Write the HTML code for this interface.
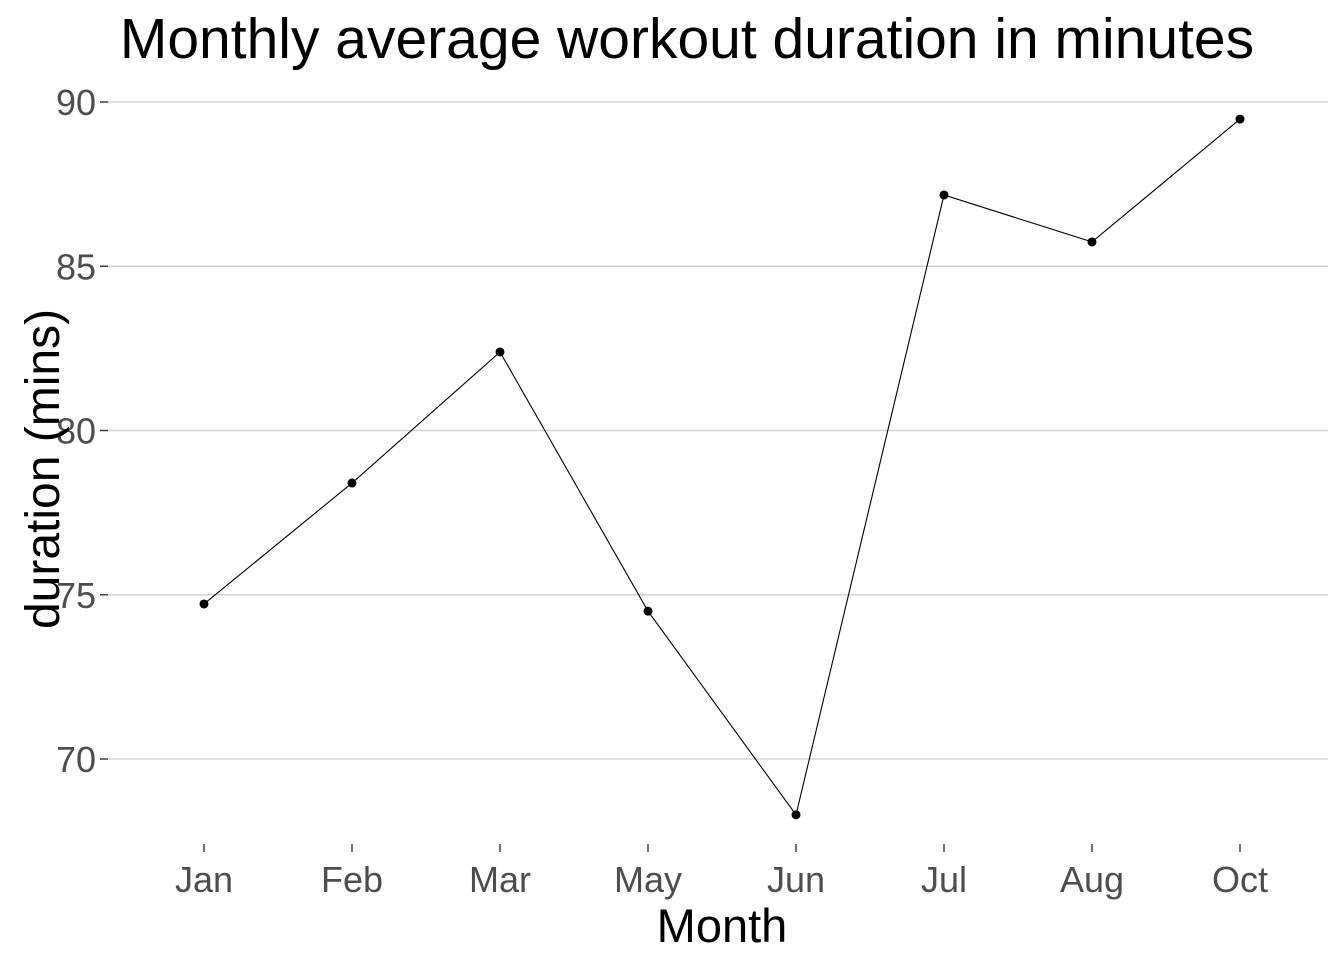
<!DOCTYPE html>
<html><head><meta charset="utf-8"><style>
body{margin:0;background:#fff;}
svg{display:block;font-family:"Liberation Sans",Arial,sans-serif;}
</style></head><body>
<svg id="chart" width="1344" height="960">
<text x="687" y="58" font-size="57" text-anchor="middle" fill="#000">Monthly average workout duration in minutes</text>
<g id="grid"></g>
<g id="yaxis"></g>
<g id="xaxis"></g>
<g id="series"></g>
<text x="722" y="942" font-size="47" text-anchor="middle" fill="#000">Month</text>
<text transform="translate(59,469) rotate(-90)" font-size="48" text-anchor="middle" fill="#000">duration (mins)</text>
</svg>
<script>
const categories=["Jan","Feb","Mar","May","Jun","Jul","Aug","Oct"];
const values=[74.72,78.4,82.39,74.5,68.3,87.17,85.74,89.48];
const yTicks=[70,75,80,85,90];
const NS="http://www.w3.org/2000/svg";
const left=108,right=1328;
function y(v){return 102+(90-v)*(657/20);}
function x(i){return 204+i*(1036/(categories.length-1));}
function mk(t,a,p){const e=document.createElementNS(NS,t);for(const k in a)e.setAttribute(k,a[k]);p.appendChild(e);return e;}
const grid=document.getElementById('grid'),ya=document.getElementById('yaxis'),xa=document.getElementById('xaxis'),s=document.getElementById('series');
yTicks.forEach(t=>{
 const g=mk('line',{x1:left,x2:right,y1:y(t),y2:y(t),stroke:'#d3d3d3','stroke-width':1.4},grid);
 
 
 const tk=mk('line',{x1:100,x2:108,y1:y(t),y2:y(t),stroke:'#333','stroke-width':1.4},ya);
 
 
 const l=mk('text',{x:96,y:y(t)+13,'font-size':36,'text-anchor':'end',fill:'#4d4d4d'},ya);
 l.textContent=t;
 
 
});
categories.forEach((c,i)=>{
 const tk=mk('line',{x1:x(i),x2:x(i),y1:844,y2:852,stroke:'#333','stroke-width':1.4},xa);
 
 
 const l=mk('text',{x:x(i),y:892,'font-size':36,'text-anchor':'middle',fill:'#4d4d4d'},xa);
 l.textContent=c;
 
 
});
const pl=mk('polyline',{points:values.map((v,i)=>x(i)+','+y(v)).join(' '),fill:'none',stroke:'#000','stroke-width':1.1},s);


values.forEach((v,i)=>{
 const c=mk('circle',{cx:x(i),cy:y(v),r:4.5,fill:'#000'},s);
 
 
});
</script>
</body></html>
